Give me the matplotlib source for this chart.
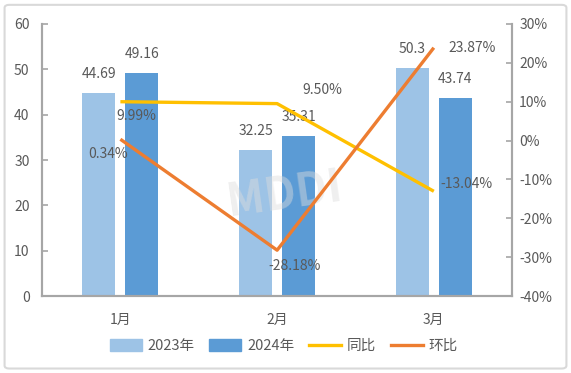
import matplotlib
matplotlib.use('Agg')
from matplotlib import pyplot as plt
from matplotlib.patches import FancyBboxPatch, Patch
from matplotlib.lines import Line2D
import numpy as np

plt.rcParams['font.family'] = ['Noto Sans CJK SC', 'DejaVu Sans']

months = ['1月', '2月', '3月']
sales_2023 = [44.69, 32.25, 50.3]
sales_2024 = [49.16, 35.31, 43.74]
yoy = [9.99, 9.50, -13.04]     # 同比, %
mom = [0.34, -28.18, 23.87]    # 环比, %

c23 = '#9DC3E6'
c24 = '#5B9BD5'
cyoy = '#FFC000'
cmom = '#ED7D31'
grey = '#A6A6A6'
txt = '#595959'

fig = plt.figure(figsize=(5.71, 3.73), dpi=100)
ax1 = fig.add_axes([0.0736, 0.206, 0.8234, 0.73])
ax2 = ax1.twinx()

x = np.arange(len(months))
w = 0.21
b1 = ax1.bar(x - 0.137, sales_2023, w, color=c23, zorder=2)
b2 = ax1.bar(x + 0.137, sales_2024, w, color=c24, zorder=2)

for xi, v in zip(x - 0.137, sales_2023):
    ax1.annotate(f'{v:g}', (xi, v), xytext=(0, 19), textcoords='offset pixels',
                 ha='center', va='center', fontsize=10, color=txt)
for xi, v in zip(x + 0.137, sales_2024):
    ax1.annotate(f'{v:g}', (xi, v), xytext=(0, 19), textcoords='offset pixels',
                 ha='center', va='center', fontsize=10, color=txt)

ax1.set_xlim(-0.5, 2.5)
ax1.set_ylim(0, 60)
ax1.set_yticks([0, 10, 20, 30, 40, 50, 60])
ax1.set_xticks(x)
ax1.set_xticklabels(months)

# faint watermark
ax2.text(1.05, -14, 'MDDI', fontsize=32, fontweight='bold', color='#DDDDDD',
         alpha=0.45, rotation=8, ha='center', va='center', zorder=1)

ax2.plot(x, yoy, color=cyoy, lw=2.4, zorder=3, solid_capstyle='butt')
ax2.plot(x, mom, color=cmom, lw=2.4, zorder=4, solid_capstyle='butt')
ax2.set_ylim(-40, 30)
ax2.set_yticks(range(-40, 31, 10))
ax2.set_yticklabels([f'{t}%' for t in range(-40, 31, 10)])

yoy_off = [(16, -14), (45, 14), (33, 7)]
mom_off = [(-12, -15), (17, -16), (38, 0)]
for xi, v, o in zip(x, yoy, yoy_off):
    ax2.annotate(f'{v:.2f}%', (xi, v), xytext=o, textcoords='offset pixels',
                 ha='center', va='center', fontsize=10, color=txt, zorder=5)
for xi, v, o in zip(x, mom, mom_off):
    ax2.annotate(f'{v:.2f}%', (xi, v), xytext=o, textcoords='offset pixels',
                 ha='center', va='center', fontsize=10, color=txt, zorder=5)

for ax in (ax1, ax2):
    ax.spines['top'].set_visible(False)
    for s in ('left', 'right', 'bottom'):
        ax.spines[s].set_color(grey)
        ax.spines[s].set_linewidth(1.5)
    ax.tick_params(axis='y', direction='in', length=4, width=1.2, color=grey,
                   labelcolor=txt, labelsize=10)
ax1.tick_params(axis='y', pad=9)
ax2.tick_params(axis='y', pad=5)
ax1.tick_params(axis='x', length=0, labelcolor=txt, labelsize=10, pad=12)

handles = [Patch(color=c23), Patch(color=c24),
           Line2D([], [], color=cyoy, lw=2.4), Line2D([], [], color=cmom, lw=2.4)]
fig.legend(handles, ['2023年', '2024年', '同比', '环比'], loc='center',
           bbox_to_anchor=(0.497, 0.072), ncol=4, frameon=False, fontsize=10.5,
           handlelength=2.2, handleheight=0.9, columnspacing=1.0, handletextpad=0.4,
           labelcolor=txt)

frame = FancyBboxPatch((0.008, 0.012), 0.984, 0.975, boxstyle='round,pad=0,rounding_size=0.008',
                       transform=fig.transFigure, facecolor='none', edgecolor='#D9D9D9', lw=1.5)
fig.patches.append(frame)

fig.savefig('out.png', dpi=100)
